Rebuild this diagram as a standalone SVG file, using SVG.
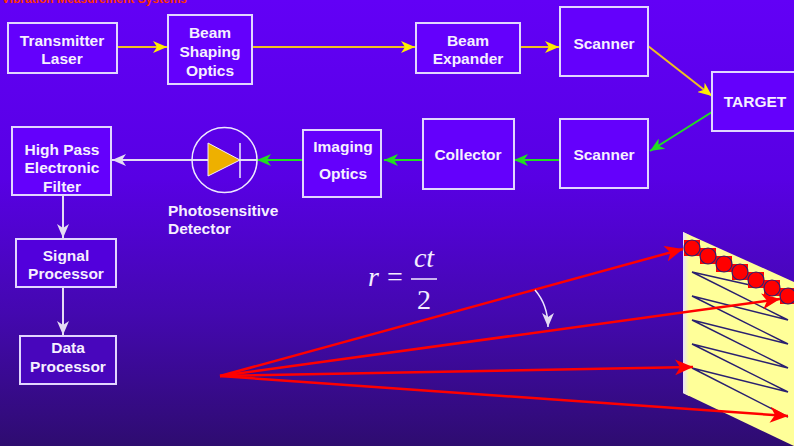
<svg xmlns="http://www.w3.org/2000/svg" width="794" height="446" viewBox="0 0 794 446">
  <defs>
    <linearGradient id="bg" x1="0" y1="0" x2="0" y2="1">
      <stop offset="0" stop-color="#6200f6"/>
      <stop offset="0.4" stop-color="#5800e4"/>
      <stop offset="0.7" stop-color="#4408b0"/>
      <stop offset="1" stop-color="#2e0c70"/>
    </linearGradient>
    <linearGradient id="edge" x1="0" y1="0" x2="1" y2="0">
      <stop offset="0" stop-color="#e8e0ff"/>
      <stop offset="1" stop-color="#ffff99"/>
    </linearGradient>
    <marker id="ahY" viewBox="0 0 14 12" refX="14" refY="6" markerWidth="14" markerHeight="12" markerUnits="userSpaceOnUse" orient="auto">
      <path d="M0,0 L14,6 L0,12 L4,6 Z" fill="#ffee00"/>
    </marker>
    <marker id="ahG" viewBox="0 0 14 12" refX="14" refY="6" markerWidth="14" markerHeight="12" markerUnits="userSpaceOnUse" orient="auto">
      <path d="M0,0 L14,6 L0,12 L4,6 Z" fill="#22dd22"/>
    </marker>
    <marker id="ahW" viewBox="0 0 14 12" refX="14" refY="6" markerWidth="14" markerHeight="12" markerUnits="userSpaceOnUse" orient="auto">
      <path d="M0,0 L14,6 L0,12 L4,6 Z" fill="#e4dcf4"/>
    </marker>
    <marker id="ahR" viewBox="0 0 18 16" refX="18" refY="8" markerWidth="18" markerHeight="16" markerUnits="userSpaceOnUse" orient="auto">
      <path d="M0,0 L18,8 L0,16 L5,8 Z" fill="#ff0000"/>
    </marker>
    <style>
      .box { fill: #6400fc; stroke: #e2d6ff; stroke-width: 2; }
      .lbl { font-family: "Liberation Sans", Arial, sans-serif; font-weight: bold; font-size: 15.5px; fill: #f6f0ff; text-anchor: middle; }
      .yel { stroke: #f0c020; stroke-width: 2; fill: none; }
      .grn { stroke: #22dd22; stroke-width: 2; fill: none; }
      .wht { stroke: #e4dcf4; stroke-width: 2; fill: none; }
      .ray { stroke: #ff0000; stroke-width: 2.5; fill: none; }
      .math { font-family: "Liberation Serif", "Times New Roman", serif; font-size: 28px; fill: #f4eeff; }
    </style>
  </defs>

  <rect width="794" height="446" fill="url(#bg)"/>

  <!-- slide title, mostly above the top edge -->
  <text x="187" y="2.5" font-family="Liberation Sans, Arial, sans-serif" font-weight="bold" font-size="12" fill="#ff3300" text-anchor="end">Vibration Measurement Systems</text>

  <!-- connectors -->
  <g id="connectors">
    <line class="yel" x1="117" y1="47" x2="167" y2="47" marker-end="url(#ahY)"/>
    <line class="yel" x1="252" y1="47" x2="415" y2="47" marker-end="url(#ahY)"/>
    <line class="yel" x1="520" y1="47" x2="559" y2="47" marker-end="url(#ahY)"/>
    <line class="yel" x1="648" y1="46" x2="712" y2="96" marker-end="url(#ahY)"/>
    <line class="grn" x1="712" y1="112" x2="650" y2="151" marker-end="url(#ahG)"/>
    <line class="grn" x1="560" y1="160" x2="514" y2="160" marker-end="url(#ahG)"/>
    <line class="grn" x1="423" y1="160" x2="384" y2="160" marker-end="url(#ahG)"/>
    <line class="grn" x1="303" y1="160" x2="257" y2="160" marker-end="url(#ahG)"/>
    <line class="wht" x1="257" y1="160" x2="112" y2="160" marker-end="url(#ahW)"/>
    <line class="wht" x1="63" y1="195" x2="63" y2="238" marker-end="url(#ahW)"/>
    <line class="wht" x1="63" y1="287" x2="63" y2="335" marker-end="url(#ahW)"/>
  </g>

  <g id="transmitter-laser">
    <rect class="box" x="8" y="23" width="109" height="50"/>
    <text class="lbl" x="62" y="46">Transmitter</text>
    <text class="lbl" x="62" y="64">Laser</text>
  </g>
  <g id="beam-shaping-optics">
    <rect class="box" x="168" y="15" width="84" height="69"/>
    <text class="lbl" x="210" y="38">Beam</text>
    <text class="lbl" x="210" y="57">Shaping</text>
    <text class="lbl" x="210" y="76">Optics</text>
  </g>
  <g id="beam-expander">
    <rect class="box" x="416" y="23" width="104" height="50"/>
    <text class="lbl" x="468" y="46">Beam</text>
    <text class="lbl" x="468" y="64">Expander</text>
  </g>
  <g id="scanner-tx">
    <rect class="box" x="560" y="7" width="88" height="69"/>
    <text class="lbl" x="604" y="49">Scanner</text>
  </g>
  <g id="target">
    <rect class="box" x="712" y="72" width="90" height="59"/>
    <text class="lbl" x="755" y="107">TARGET</text>
  </g>
  <g id="scanner-rx">
    <rect class="box" x="560" y="119" width="88" height="69"/>
    <text class="lbl" x="604" y="160">Scanner</text>
  </g>
  <g id="collector">
    <rect class="box" x="423" y="119" width="91" height="70"/>
    <text class="lbl" x="468" y="160">Collector</text>
  </g>
  <g id="imaging-optics">
    <rect class="box" x="303" y="130" width="78" height="67"/>
    <text class="lbl" x="343" y="152">Imaging</text>
    <text class="lbl" x="343" y="179">Optics</text>
  </g>
  <g id="detector">
    <circle cx="224.5" cy="160" r="32.5" fill="none" stroke="#eee8ff" stroke-width="1.5"/>
    <polygon points="208,143 240,160 208,176" fill="#eeb000" stroke="#f4eeff" stroke-width="1"/>
    <line x1="240" y1="143" x2="240" y2="178" stroke="#eee8ff" stroke-width="1.5"/>
    <text class="lbl" x="168" y="216" style="text-anchor:start">Photosensitive</text>
    <text class="lbl" x="168" y="234" style="text-anchor:start">Detector</text>
  </g>
  <g id="high-pass-filter">
    <rect class="box" x="12" y="127" width="99" height="68"/>
    <text class="lbl" x="62" y="155">High Pass</text>
    <text class="lbl" x="62" y="173">Electronic</text>
    <text class="lbl" x="62" y="192">Filter</text>
  </g>
  <g id="signal-processor">
    <rect class="box" x="16" y="239" width="100" height="48" style="fill:#5200dc"/>
    <text class="lbl" x="66" y="261">Signal</text>
    <text class="lbl" x="66" y="279">Processor</text>
  </g>
  <g id="data-processor">
    <rect class="box" x="20" y="336" width="96" height="48" style="fill:#4806bc"/>
    <text class="lbl" x="68" y="353">Data</text>
    <text class="lbl" x="68" y="372">Processor</text>
  </g>

  <!-- range equation -->
  <g id="equation">
    <text class="math" x="368" y="286" font-style="italic">r</text>
    <text class="math" x="395" y="286" text-anchor="middle">=</text>
    <line x1="411" y1="279" x2="437" y2="279" stroke="#f4eeff" stroke-width="1.5"/>
    <text class="math" x="424" y="267" text-anchor="middle" font-style="italic">ct</text>
    <text class="math" x="424" y="309" text-anchor="middle">2</text>
  </g>

  <!-- illuminated target surface -->
  <g id="target-surface">
    <polygon points="683,232 794,282 794,446 683,393" fill="#ffff99"/>
    <polygon points="683,232 689,235 689,396 683,393" fill="url(#edge)"/>
    <path d="M692,272 L750,285 M692,272 L788,320 L692,296 L788,344 L692,320 L788,368 L692,344 L788,392 L692,368 L788,417" fill="none" stroke="#2a2070" stroke-width="1.5"/>
    <g fill="#ff0000">
      <rect x="684" y="240" width="16" height="16"/>
      <rect x="700" y="248" width="16" height="16"/>
      <rect x="716" y="256" width="16" height="16"/>
      <rect x="732" y="264" width="16" height="16"/>
      <rect x="748" y="272" width="16" height="16"/>
      <rect x="764" y="280" width="16" height="16"/>
      <rect x="780" y="288" width="16" height="16"/>
    </g>
    <g fill="#ff0000" stroke="#302070" stroke-width="1.2">
      <circle cx="692" cy="248" r="8"/>
      <circle cx="708" cy="256" r="8"/>
      <circle cx="724" cy="264" r="8"/>
      <circle cx="740" cy="272" r="8"/>
      <circle cx="756" cy="280" r="8"/>
      <circle cx="772" cy="288" r="8"/>
      <circle cx="788" cy="296" r="8"/>
    </g>
  </g>

  <!-- scanning beams -->
  <g id="beams">
    <line class="ray" x1="220" y1="376" x2="683" y2="249" marker-end="url(#ahR)"/>
    <line class="ray" x1="220" y1="376" x2="780" y2="299" marker-end="url(#ahR)"/>
    <line class="ray" x1="220" y1="376" x2="693" y2="367" marker-end="url(#ahR)"/>
    <line class="ray" x1="220" y1="376" x2="788" y2="416" marker-end="url(#ahR)"/>
    <path d="M535,290 Q548,305 548,327" fill="none" stroke="#eee8ff" stroke-width="1.5" marker-end="url(#ahW)"/>
  </g>
</svg>
